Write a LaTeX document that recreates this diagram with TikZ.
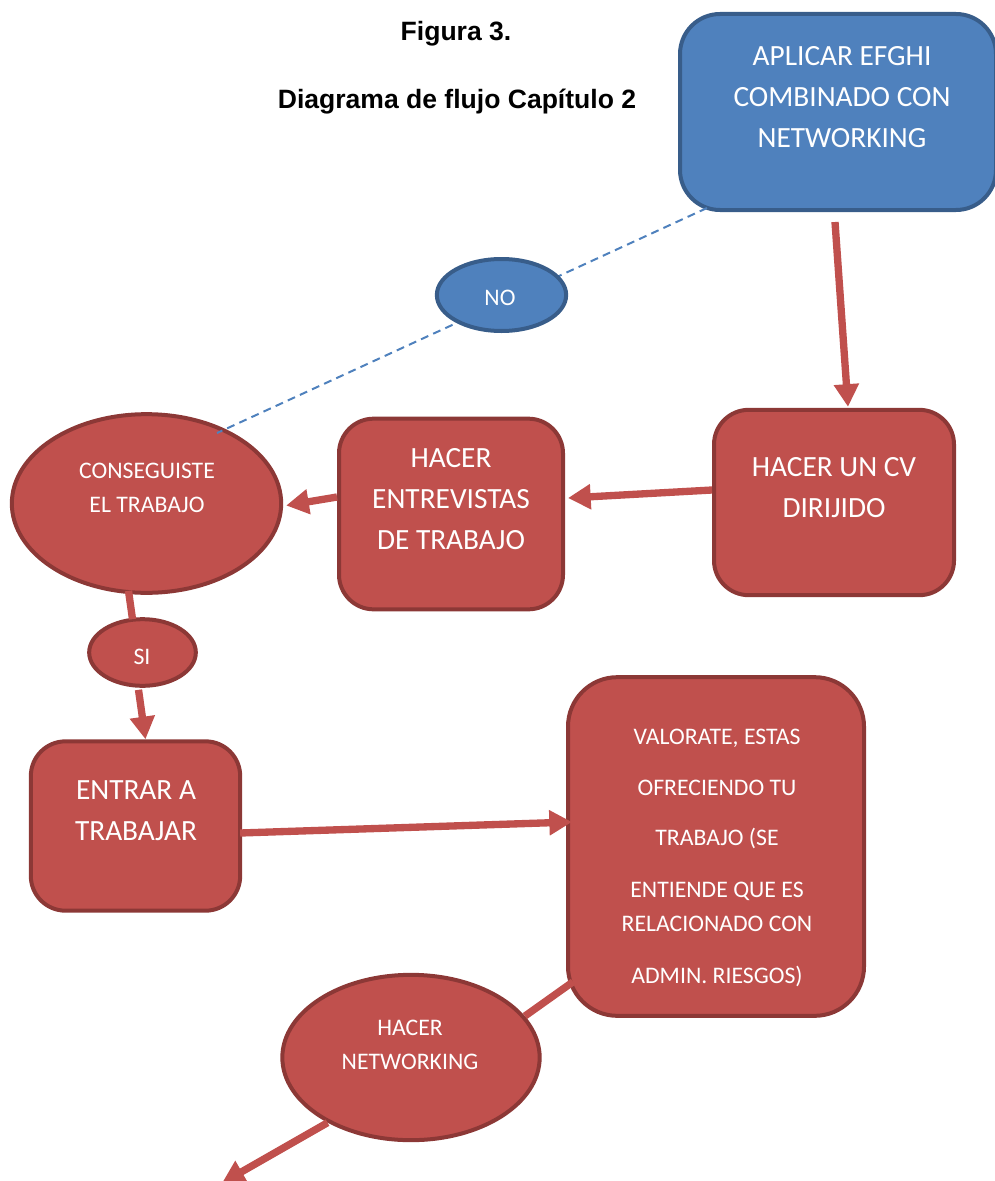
\documentclass[tikz,border=0pt]{standalone}
\usepackage{fontspec}
\setmainfont{Carlito}
\newfontfamily\arialfont{Liberation Sans}
\usetikzlibrary{arrows.meta,shapes.geometric,calc}
\definecolor{redfill}{HTML}{C0504D}
\definecolor{redline}{HTML}{8C3836}
\definecolor{bluefill}{HTML}{4F81BD}
\definecolor{blueline}{HTML}{385D8A}
\begin{document}
\begin{tikzpicture}[x=0.75pt,y=-0.75pt,
  redbox/.style={draw=redline, fill=redfill, line width=3pt, rounded corners=26pt, inner sep=0pt},
  bluebox/.style={draw=blueline, fill=bluefill, line width=3pt, rounded corners=30pt, inner sep=0pt},
  redell/.style={ellipse, draw=redline, fill=redfill, line width=3pt, inner sep=0pt},
  blueell/.style={ellipse, draw=blueline, fill=bluefill, line width=3pt, inner sep=0pt},
  bigtxt/.style={text=white, font=\fontsize{22}{30.75}\selectfont, align=center, inner sep=0pt},
  smalltxt/.style={text=white, font=\fontsize{17.8}{25.5}\selectfont, align=center, inner sep=0pt},
  titletxt/.style={font=\arialfont\bfseries\fontsize{19.9}{23}\selectfont, inner sep=0pt},
  flow/.style={draw=redfill, line width=5.5pt, -{Triangle[width=18pt,length=17pt]}},
  link/.style={draw=redfill, line width=5.5pt},
  nolink/.style={draw=bluefill, line width=1.5pt, dash pattern=on 6pt off 4pt},
]
\useasboundingbox (0,0) rectangle (995,1181);
\clip (0,0) rectangle (995,1181);

% titles
\node[titletxt] (fig) at (456,34) {Figura 3.};
\node[titletxt] (sub) at (457,102) {Diagrama de flujo Capítulo 2};

% shapes
\node[bluebox, minimum width=237pt, minimum height=147pt] (blue) at (838,112) {};
\node[redbox, minimum width=180pt, minimum height=139pt] (cv) at (834,502.5) {};
\node[redbox, minimum width=168pt, minimum height=143pt] (ent) at (451,514) {};
\node[redell, minimum width=202pt, minimum height=134pt] (cons) at (146.5,503.5) {};
\node[redell, minimum width=80pt, minimum height=50pt] (si) at (142.5,652.5) {};
\node[redbox, minimum width=157pt, minimum height=127pt] (entrar) at (135.5,826) {};
\node[redbox, rounded corners=37pt, minimum width=222pt, minimum height=254pt] (val) at (716,846.5) {};
\node[redell, minimum width=193pt, minimum height=124pt] (hn) at (411,1057.5) {};

% dashed NO link
\coordinate (noend) at ($(cons.center)+(70.5,-70.5)$);
\draw[nolink] ($(blue.south west)+(29,-4)$) -- (noend);
\node[blueell, minimum width=97pt, minimum height=54pt] (no) at (501.5,295) {};

% texts
\node[bigtxt] (tblue) at (842,97.5) {APLICAR EFGHI\\COMBINADO CON\\NETWORKING};
\node[bigtxt] (tcv) at (834,487.5) {HACER UN CV\\DIRIJIDO};
\node[bigtxt] (tent) at (451,499) {HACER\\ENTREVISTAS\\DE TRABAJO};
\node[bigtxt] (tentrar) at (136,810.5) {ENTRAR A\\TRABAJAR};
\node[smalltxt] (tcons) at (147,487.5) {CONSEGUISTE\\EL TRABAJO};
\node[smalltxt] (tsi) at (142,657) {SI};
\node[smalltxt] (tno) at (500,298) {NO};
\node[smalltxt] (thn) at (410,1045) {HACER\\NETWORKING};
\node[smalltxt] (tval) at (717,858) {VALORATE, ESTAS\\[12.75pt]OFRECIENDO TU\\[12pt]TRABAJO (SE\\[13.5pt]ENTIENDE QUE ES\\RELACIONADO CON\\[13.5pt]ADMIN. RIESGOS)};

% connectors
\draw[flow] ($(blue.south)+(-3,10)$) -- ($(cv.north)+(14,-1)$);
\draw[flow] ($(cv.west)+(0,-12.5)$) -- ($(ent.east)+(3,-16)$);
\draw[flow] ($(ent.west)+(0,-17)$) -- ($(cons.east)+(3,2)$);
\draw[link] ($(cons.south)+(-18,-4)$) -- ($(si.north)+(-10,2)$);
\draw[flow] ($(si.south)+(-4,2)$) -- ($(entrar.north)+(10,0)$);
\draw[flow] ($(entrar.east)+(-2,7)$) -- ($(val.west)+(6,-24.5)$);
\draw[link] ($(val.south west)+(7,-36)$) -- (hn.20);
\coordinate (out) at (222,1183);
\draw[flow] (hn.218) -- (out);
\end{tikzpicture}
\end{document}
